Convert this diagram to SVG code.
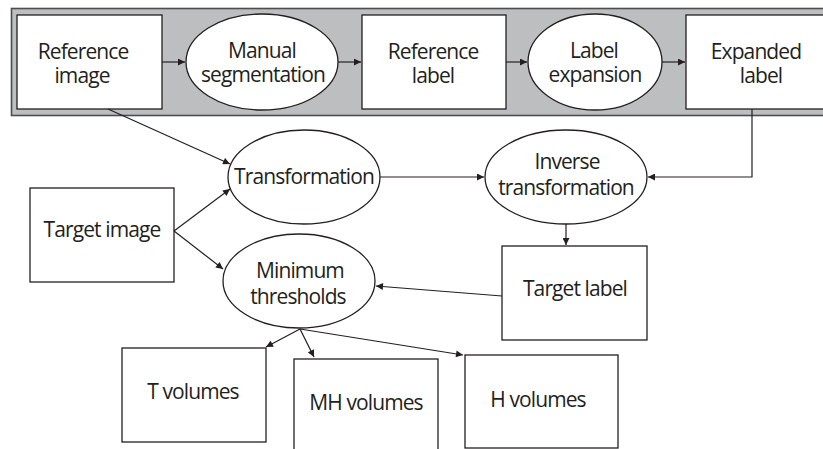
<svg xmlns="http://www.w3.org/2000/svg" width="823" height="449" viewBox="0 0 823 449">
  <style>
    .box { fill: #ffffff; stroke: #231f20; stroke-width: 1.3; }
    .lbl { font-family: "Open Sans", "Liberation Sans", sans-serif; font-size: 21px; letter-spacing: -0.9px; fill: #231f20; text-anchor: middle; }
    .edge { fill: none; stroke: #231f20; stroke-width: 1.2; marker-end: url(#arrow); }
  </style>
  <defs>
    <marker id="arrow" viewBox="0 0 10 10" refX="10" refY="5" markerWidth="8" markerHeight="7" markerUnits="userSpaceOnUse" orient="auto">
      <path d="M0,0 L10,5 L0,10 z" fill="#231f20"/>
    </marker>
  </defs>

  <!-- shaded pipeline band -->
  <g id="band">
    <rect x="11.5" y="8.5" width="830" height="107" fill="#bcbec0" stroke="#4d4d4f" stroke-width="1.6"/>
  </g>

  <g id="reference-image">
    <rect class="box" x="17" y="15" width="145" height="94"/>
    <text class="lbl" x="83" y="59">Reference</text>
    <text class="lbl" x="82" y="83">image</text>
  </g>
  <g id="manual-segmentation">
    <ellipse class="box" cx="262" cy="62" rx="76" ry="48"/>
    <text class="lbl" x="262" y="58">Manual</text>
    <text class="lbl" x="263" y="82">segmentation</text>
  </g>
  <g id="reference-label">
    <rect class="box" x="362" y="15" width="144" height="94"/>
    <text class="lbl" x="433" y="59">Reference</text>
    <text class="lbl" x="433" y="83">label</text>
  </g>
  <g id="label-expansion">
    <ellipse class="box" cx="595" cy="62" rx="67" ry="48"/>
    <text class="lbl" x="594" y="58">Label</text>
    <text class="lbl" x="595" y="82">expansion</text>
  </g>
  <g id="expanded-label">
    <rect class="box" x="686" y="15" width="160" height="94"/>
    <text class="lbl" x="756" y="59">Expanded</text>
    <text class="lbl" x="761" y="83">label</text>
  </g>

  <g id="transformation">
    <ellipse class="box" cx="304" cy="177" rx="76" ry="47"/>
    <text class="lbl" x="304" y="184">Transformation</text>
  </g>
  <g id="inverse-transformation">
    <ellipse class="box" cx="566" cy="177" rx="81" ry="47"/>
    <text class="lbl" x="567" y="169">Inverse</text>
    <text class="lbl" x="566" y="195">transformation</text>
  </g>
  <g id="target-image">
    <rect class="box" x="30" y="188" width="144" height="94"/>
    <text class="lbl" x="102" y="237">Target image</text>
  </g>
  <g id="minimum-thresholds">
    <ellipse class="box" cx="299" cy="281" rx="76" ry="47"/>
    <text class="lbl" x="300" y="278">Minimum</text>
    <text class="lbl" x="298" y="304">thresholds</text>
  </g>
  <g id="target-label">
    <rect class="box" x="502" y="246" width="145" height="94"/>
    <text class="lbl" x="575" y="296">Target label</text>
  </g>
  <g id="t-volumes">
    <rect class="box" x="122" y="348" width="144" height="94"/>
    <text class="lbl" x="193" y="399">T volumes</text>
  </g>
  <g id="mh-volumes">
    <rect class="box" x="294" y="359" width="144" height="100"/>
    <text class="lbl" x="366" y="410">MH volumes</text>
  </g>
  <g id="h-volumes">
    <rect class="box" x="465" y="355" width="153" height="93"/>
    <text class="lbl" x="538" y="407">H volumes</text>
  </g>

  <g id="connectors">
    <path class="edge" d="M162,62 H185"/>
    <path class="edge" d="M338,62 H361"/>
    <path class="edge" d="M506,62 H527"/>
    <path class="edge" d="M662,62 H685"/>
    <path class="edge" d="M108,109 L230,164"/>
    <path class="edge" d="M174,231 L230,189"/>
    <path class="edge" d="M174,231 L223,269"/>
    <path class="edge" d="M380,177 H484"/>
    <path class="edge" d="M752,109 V177 H648"/>
    <path class="edge" d="M566,224 V245"/>
    <path class="edge" d="M502,296 L376,286"/>
    <path class="edge" d="M300,329 L266,347"/>
    <path class="edge" d="M300,329 L314,357"/>
    <path class="edge" d="M300,329 L463,355"/>
  </g>
</svg>
